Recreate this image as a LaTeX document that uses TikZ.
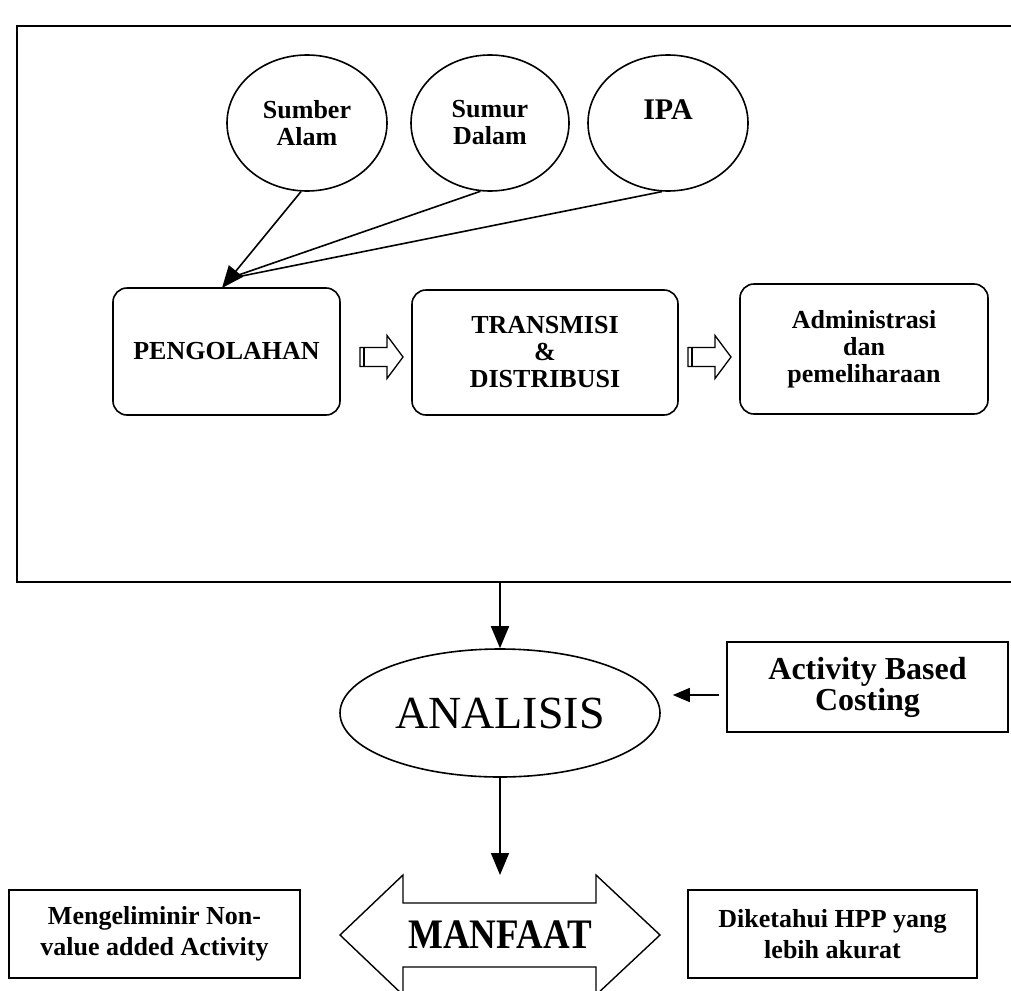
\documentclass[tikz,border=0pt]{standalone}
\usepackage{fontspec}
\setmainfont{Liberation Serif}
\usetikzlibrary{shapes.geometric,arrows.meta,calc}
\begin{document}
\begin{tikzpicture}[x=1pt,y=-1pt,
  line width=1.6pt,
  oval/.style={draw,ellipse,inner sep=0pt,align=center},
  rbox/.style={draw,rounded corners=14pt,inner sep=0pt,align=center},
  sbox/.style={draw,rectangle,inner sep=0pt,align=center},
  boxfont/.style={font=\fontsize{26}{27}\selectfont\bfseries},
  bigtip/.style={-{Triangle[length=22pt,width=18pt]}},
  smalltip/.style={-{Triangle[length=17pt,width=14pt]}},
  openarrow/.pic={
    \draw[line width=1.3pt] (0,-9.5) -- (27,-9.5) -- (27,-21.5) -- (43,0) -- (27,21.5) -- (27,9.5) -- (0,9.5) -- cycle;
    \draw[line width=1.3pt] (4,-9.5) -- (4,9.5);
  }
]
\useasboundingbox (0,0) rectangle (1011,990);
\clip (0,0) rectangle (1011,990);

% frame
\draw[line width=2.2pt] (1030,26) -- (17,26) -- (17,582) -- (1030,582);

% sources
\node[oval,boxfont,minimum width=160pt,minimum height=136pt] (e1) at (307,123) {Sumber\\Alam};
\node[oval,boxfont,minimum width=158pt,minimum height=136pt] (e2) at (490,123) {Sumur\\Dalam};
\node[oval,font=\fontsize{30}{27}\selectfont\bfseries,minimum width=160pt,minimum height=136pt] (e3) at (668,123) {IPA\\\mbox{}};

% process boxes
\node[rbox,boxfont,minimum width=227pt,minimum height=127pt] (peng) at (226.5,351.5) {PENGOLAHAN};
\node[rbox,boxfont,minimum width=266pt,minimum height=125pt] (trans) at (545,352.5) {TRANSMISI\\\&\\DISTRIBUSI};
\node[rbox,boxfont,minimum width=248pt,minimum height=130pt] (admin) at (864,349) {Administrasi\\dan\\pemeliharaan};

\coordinate (pt) at (222,288);
\coordinate (pb) at (227,279);
\draw (e2.262) -- (pb);
\draw (e3.265) -- (pb);
\draw[bigtip] (e1.265) -- (pt);

\pic at (360,357) {openarrow};
\pic at (688,357) {openarrow};

% analysis
\node[oval,font=\fontsize{46}{46}\selectfont,minimum width=320pt,minimum height=128pt] (anal) at (500,713) {ANALISIS};
\coordinate (fb) at (500,582);
\draw[bigtip] (fb) -- (anal.north);

\node[sbox,font=\fontsize{32}{31}\selectfont\bfseries,minimum width=281pt,minimum height=90pt] (abc) at (867.5,687) {Activity Based\\Costing};
\draw[smalltip] ($(abc.west)+(-7,8)$) -- ($(anal.east)+(12,-18)$);

% benefits
\coordinate (mtip) at (500,875);
\draw[bigtip] (anal.south) -- (mtip);
\draw[line width=1.4pt] (340,935) -- (403,875) -- (403,903) -- (596,903) -- (596,875) -- (660,935)
  -- (596,995) -- (596,967) -- (403,967) -- (403,995) -- cycle;
\node[font=\fontsize{42}{42}\selectfont\bfseries] (manf) at (500,935) {\scalebox{0.88}[1]{MANFAAT}};

\node[sbox,font=\fontsize{26}{31}\selectfont\bfseries,minimum width=291pt,minimum height=88pt] (meng) at (154.5,934) {Mengeliminir Non-\\value added Activity};
\node[sbox,font=\fontsize{26}{31}\selectfont\bfseries,minimum width=289pt,minimum height=88pt] (dik) at (832.5,934) {Diketahui HPP yang\\lebih akurat};
\end{tikzpicture}
\end{document}
